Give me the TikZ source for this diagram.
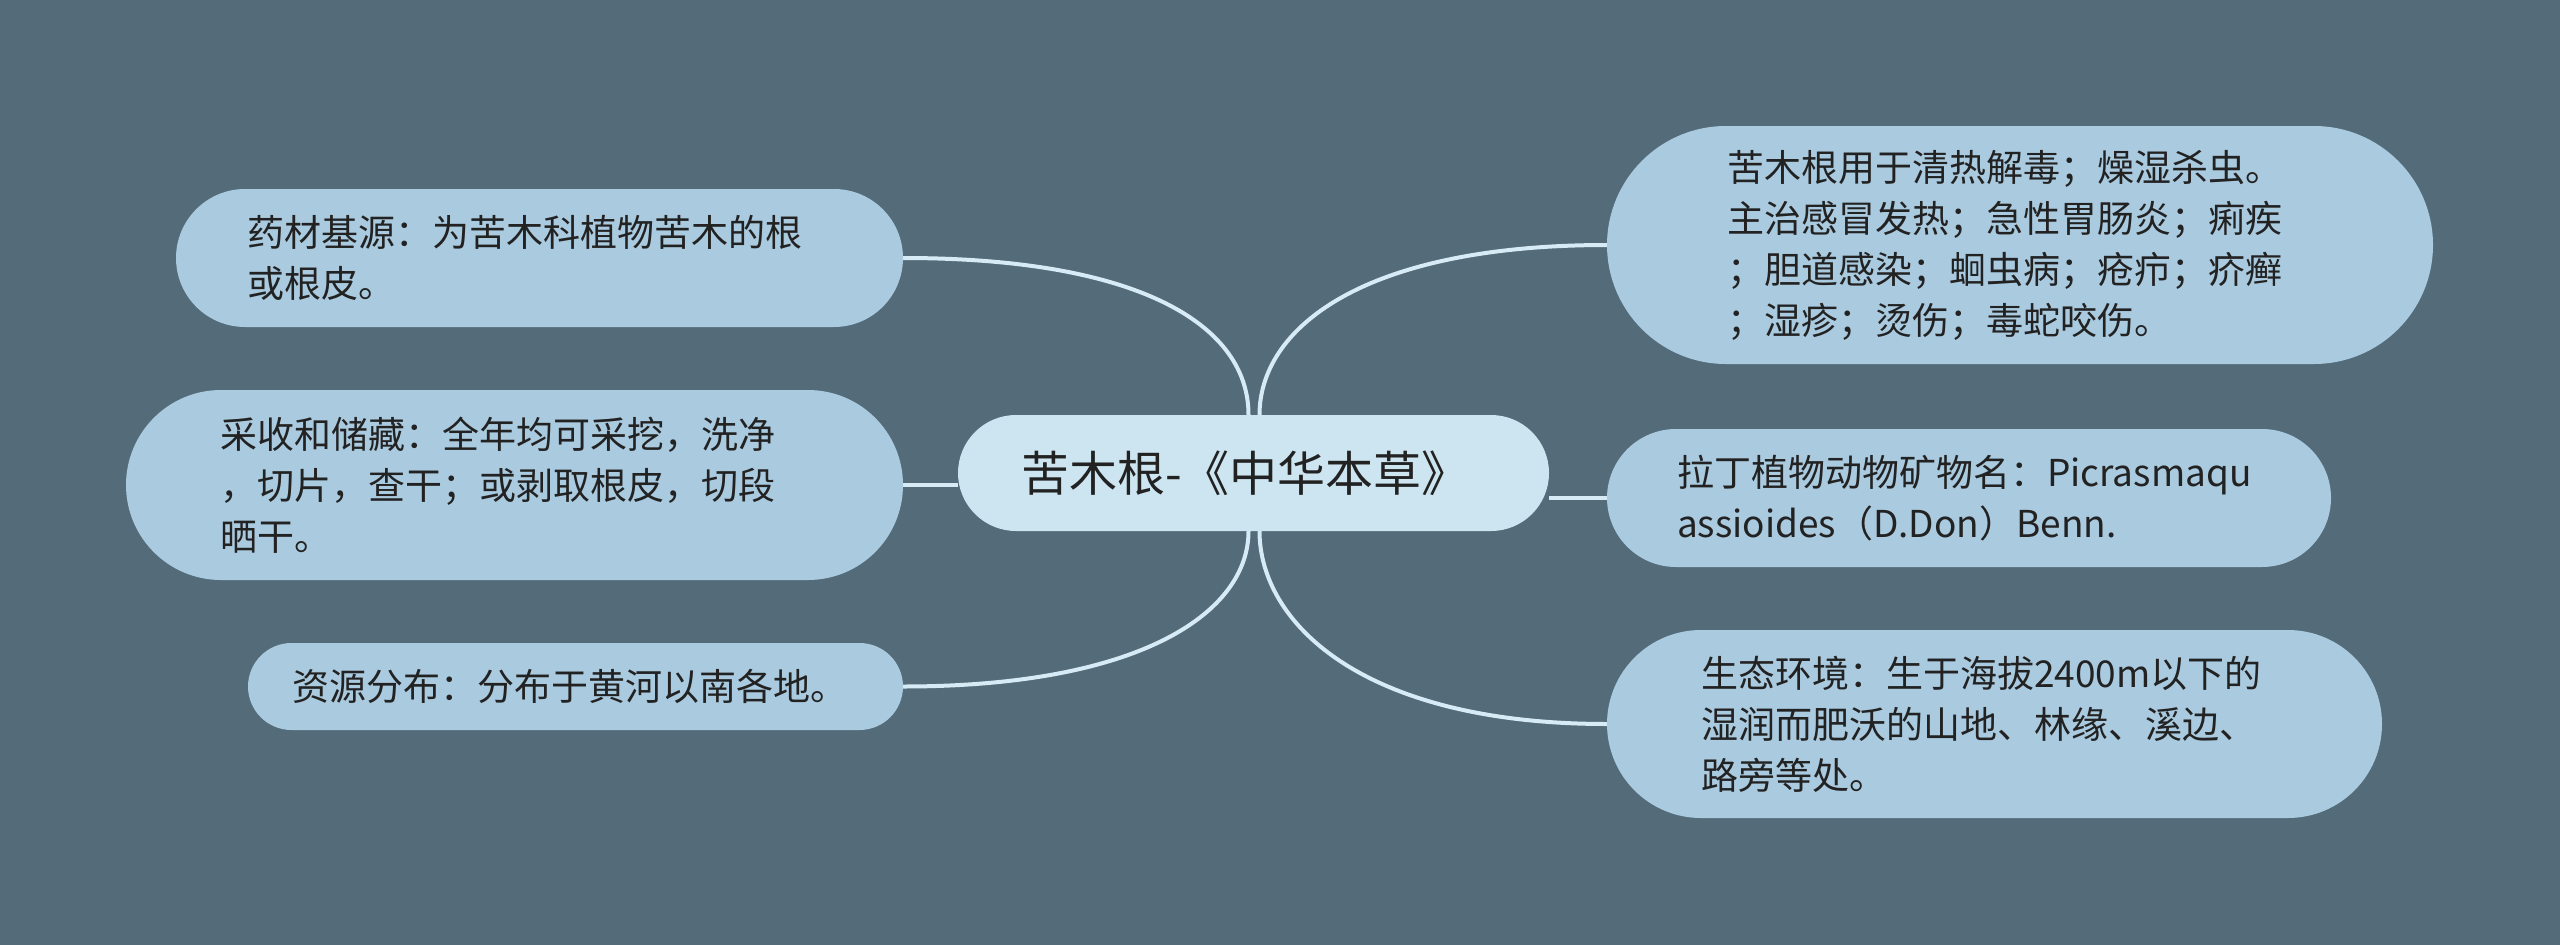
\documentclass[tikz,border=0pt]{standalone}
\usepackage{fontspec}
\setmainfont{Noto Sans CJK SC}
\usetikzlibrary{backgrounds,calc}
\definecolor{bgcol}{HTML}{546B7A}
\definecolor{leaffill}{HTML}{AACADF}
\definecolor{centerfill}{HTML}{CDE5F1}
\definecolor{linecol}{HTML}{D6EBF5}
\definecolor{textcol}{HTML}{222222}
\begin{document}
\begin{tikzpicture}[x=1pt,y=-1pt,
  leaf/.style={fill=leaffill, text=textcol, align=left, inner ysep=0pt,
    font=\fontsize{37}{51}\selectfont},
  hub/.style={fill=centerfill, text=textcol, align=center, inner ysep=0pt,
    font=\fontsize{48}{60}\selectfont},
  conn/.style={draw=linecol, line width=4pt}]
\useasboundingbox (0,0) rectangle (2560,945);

\node[hub, minimum width=591, minimum height=116, rounded corners=58] (c) at (1253.5,473) {\hspace*{-16pt}苦木根-《中华本草》};

\node[leaf, minimum width=727, minimum height=138, rounded corners=69, inner xsep=71pt, text width=585pt] (l1) at (539.5,258)
 {药材基源：为苦木科植物苦木的根\\或根皮。};
\node[leaf, minimum width=777, minimum height=190, rounded corners=95, inner xsep=94pt, text width=589pt] (l2) at (514.5,485)
 {采收和储藏：全年均可采挖，洗净\\，切片，查干；或剥取根皮，切段\\晒干。};
\node[leaf, minimum width=655, minimum height=87, rounded corners=43.5, inner xsep=44pt, text width=567pt] (l3) at (575.5,686.5)
 {资源分布：分布于黄河以南各地。};

\node[leaf, minimum width=826, minimum height=238, rounded corners=119, inner xsep=120pt, text width=586pt] (r1) at (2020,245)
 {苦木根用于清热解毒；燥湿杀虫。\\主治感冒发热；急性胃肠炎；痢疾\\；胆道感染；蛔虫病；疮疖；疥癣\\；湿疹；烫伤；毒蛇咬伤。};
\node[leaf, minimum width=724, minimum height=138, rounded corners=69, inner xsep=70pt, text width=584pt] (r2) at (1969,498)
 {拉丁植物动物矿物名：Picrasmaqu\\assioides（D.Don）Benn.};
\node[leaf, minimum width=775, minimum height=188, rounded corners=94, inner xsep=94pt, text width=587pt] (r3) at (1994.5,724)
 {生态环境：生于海拔2400m以下的\\湿润而肥沃的山地、林缘、溪边、\\路旁等处。};

\coordinate (ctl) at ([xshift=-5pt]c.north);
\coordinate (ctr) at ([xshift=6pt]c.north);
\coordinate (cbl) at ([xshift=-5pt]c.south);
\coordinate (cbr) at ([xshift=6pt]c.south);

\begin{scope}[on background layer]
\fill[bgcol] (0,0) rectangle (2560,945);
\draw[conn] (l1.east) .. controls +(240,0) and +(0,-88) .. (ctl);
\draw[conn] (l2.east) -- (l2.east -| c.west);
\draw[conn] (l3.east) .. controls +(240,0) and +(0,80) .. (cbl);
\draw[conn] (r1.west) .. controls +(-247,0) and +(0,-85) .. (ctr);
\draw[conn] (r2.west) -- (r2.west -| c.east);
\draw[conn] (r3.west) .. controls +(-247,0) and +(0,90) .. (cbr);
\end{scope}
\end{tikzpicture}
\end{document}
